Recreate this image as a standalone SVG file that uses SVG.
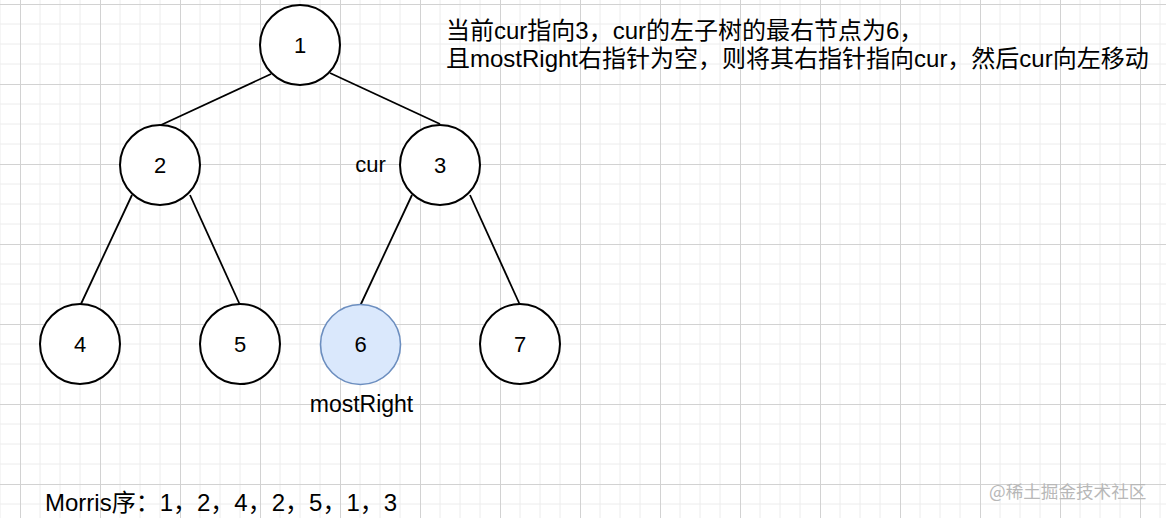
<svg xmlns="http://www.w3.org/2000/svg" width="1166" height="518" viewBox="0 0 1166 518">
  <defs>
    <pattern id="grid" x="20" y="4" width="80" height="80" patternUnits="userSpaceOnUse">
      <path d="M20 0V80M40 0V80M60 0V80M0 20H80M0 40H80M0 60H80" fill="none" stroke="#ececec" stroke-width="1"/>
      <path d="M0.5 0V80M0 0.5H80" fill="none" stroke="#d2d2d2" stroke-width="1"/>
    </pattern>
    <style>
      .node circle { fill: #ffffff; stroke: #000000; stroke-width: 2; }
      .node.hl circle { fill: #dae8fc; stroke: #6c8ebf; stroke-width: 1.6; }
      .node text, .lbl { font-family: "Liberation Sans", Arial, "Noto Sans CJK SC", sans-serif; font-size: 22px; fill: #000; text-anchor: middle; }
      .edge { stroke: #000; stroke-width: 1.8; fill: none; }
      .note { font-family: "Liberation Sans", Arial, "Noto Sans CJK SC", sans-serif; font-size: 24px; fill: #000; }
      .wm { font-family: "Noto Sans CJK SC", sans-serif; font-size: 17.6px; fill: #b8b8b8; }
    </style>
  </defs>
  <rect width="1166" height="518" fill="#ffffff"/>
  <rect width="1166" height="518" fill="url(#grid)"/>

  <g id="connectors">
    <line class="edge" x1="271" y1="74" x2="161" y2="125"/>
    <line class="edge" x1="330" y1="73" x2="440" y2="124"/>
    <line class="edge" x1="132" y1="195" x2="80.5" y2="305"/>
    <line class="edge" x1="190" y1="195" x2="240" y2="305"/>
    <line class="edge" x1="412" y1="195" x2="360.5" y2="305"/>
    <line class="edge" x1="470" y1="195" x2="520" y2="305"/>
  </g>

  <g id="node1" class="node"><circle cx="300" cy="45" r="40"/><text x="300" y="53">1</text></g>
  <g id="node2" class="node"><circle cx="160" cy="165" r="40"/><text x="160" y="173">2</text></g>
  <g id="node3" class="node"><circle cx="440" cy="165" r="40"/><text x="440" y="173">3</text></g>
  <g id="node4" class="node"><circle cx="80" cy="344" r="40"/><text x="80" y="352">4</text></g>
  <g id="node5" class="node"><circle cx="240" cy="344" r="40"/><text x="240" y="352">5</text></g>
  <g id="node6" class="node hl"><circle cx="360.5" cy="344.5" r="40"/><text x="360.5" y="352">6</text></g>
  <g id="node7" class="node"><circle cx="520" cy="344" r="40"/><text x="520" y="352">7</text></g>

  <text class="lbl" x="370.5" y="171.5">cur</text>
  <text class="lbl" x="361.5" y="412" style="font-size:23px">mostRight</text>

  <text class="note" x="446" y="39">当前cur指向3，cur的左子树的最右节点为6，</text>
  <text class="note" x="446" y="67">且mostRight右指针为空，则将其右指针指向cur，然后cur向左移动</text>
  <text class="note" x="45" y="511">Morris序：1，2，4，2，5，1，3</text>

  <text class="wm" x="989" y="498">@稀土掘金技术社区</text>
</svg>
